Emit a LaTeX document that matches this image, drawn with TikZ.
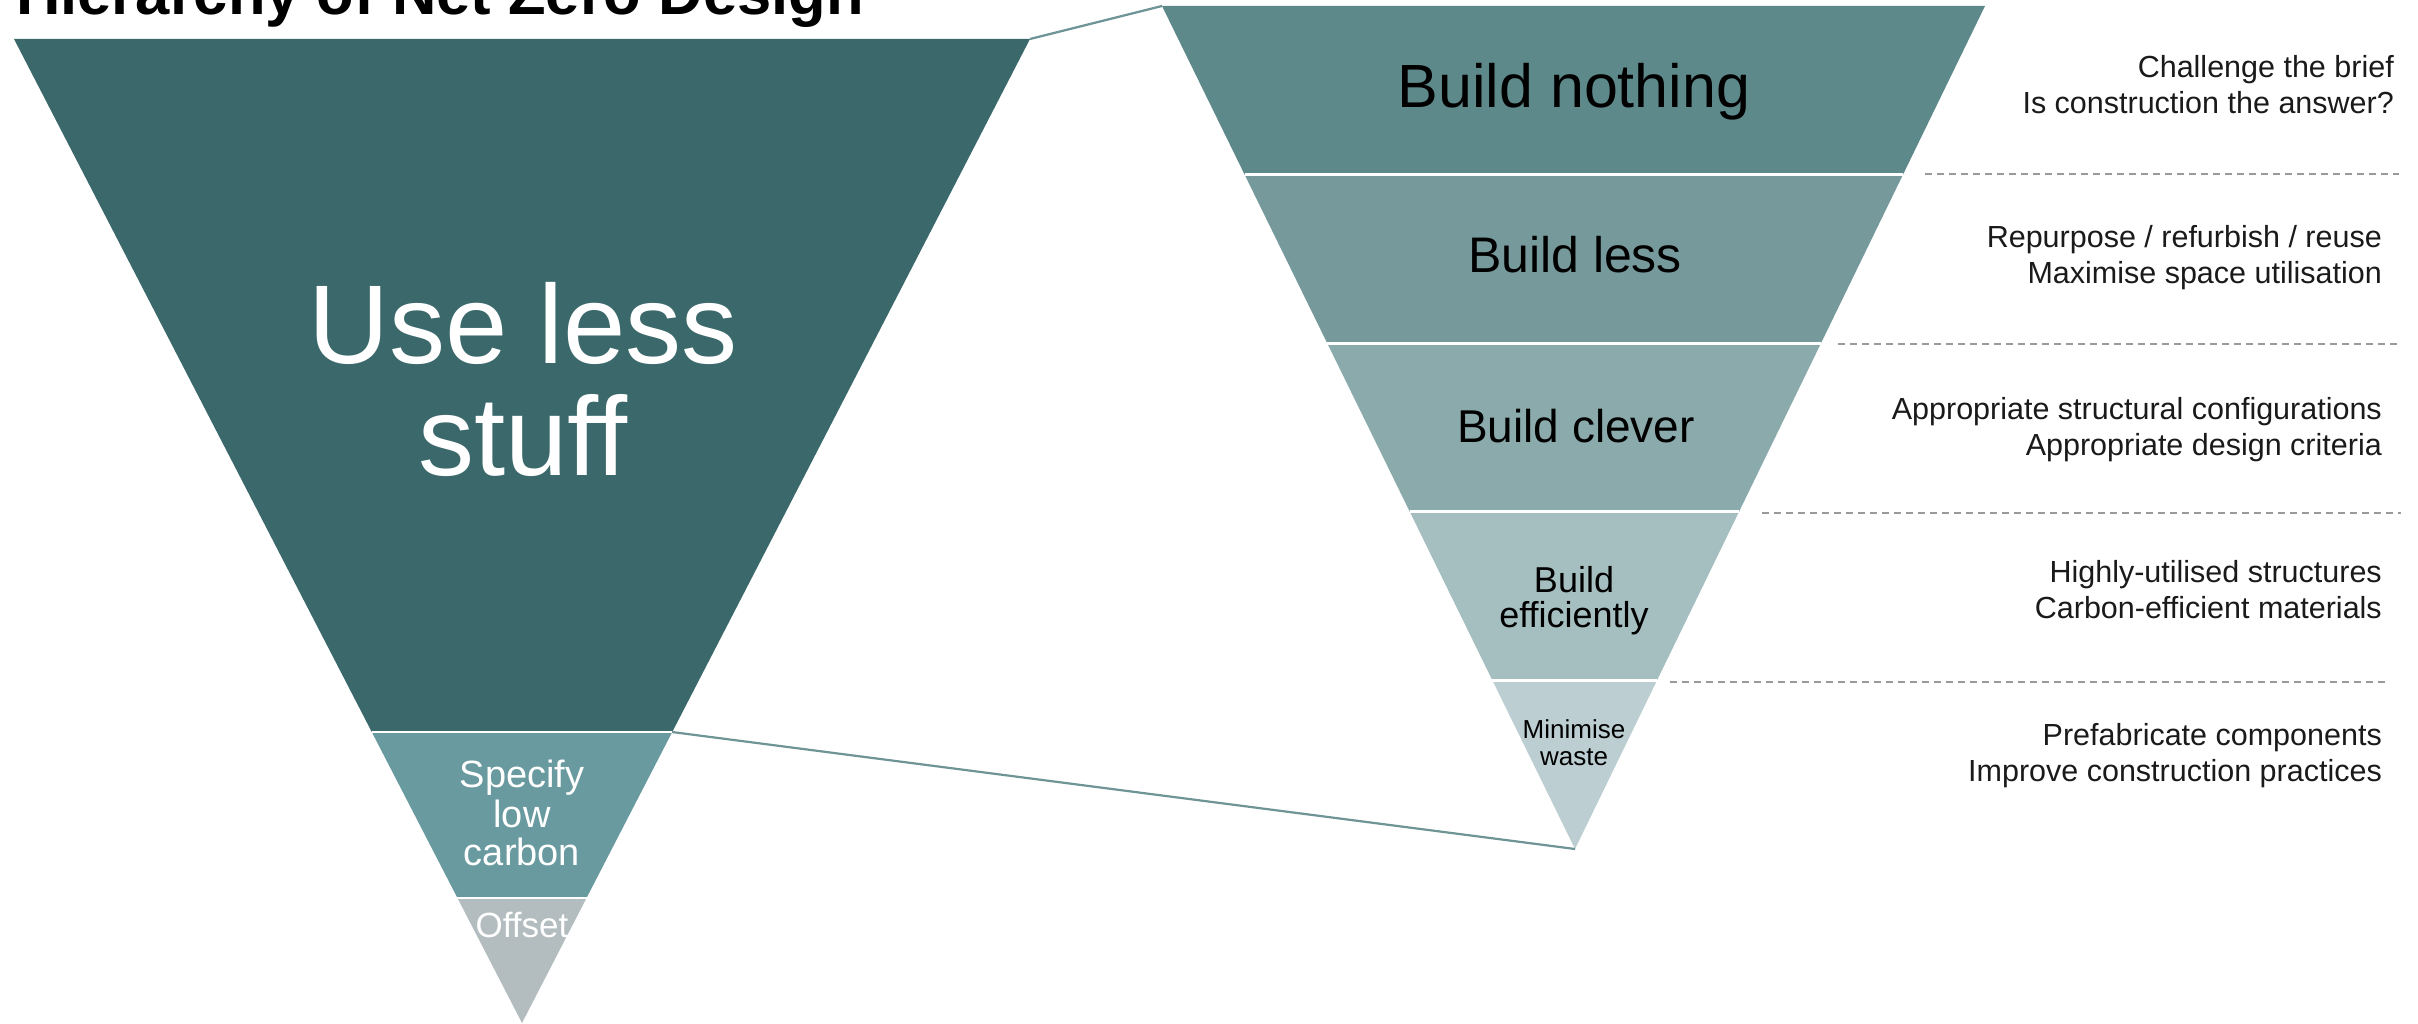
\documentclass[tikz,border=0pt]{standalone}
\usepackage{fontspec}
\setmainfont{Liberation Sans}
\usetikzlibrary{calc}
\definecolor{cUse}{HTML}{3A686B}
\definecolor{cSpec}{HTML}{689A9F}
\definecolor{cOff}{HTML}{B3BDBF}
\definecolor{cNoth}{HTML}{5E898B}
\definecolor{cLess}{HTML}{769A9C}
\definecolor{cClev}{HTML}{8BAAAC}
\definecolor{cEff}{HTML}{A5BEC0}
\definecolor{cWaste}{HTML}{BCCED1}
\definecolor{cConn}{HTML}{6E9496}
\definecolor{cDash}{HTML}{9A9A9A}
\definecolor{cNote}{HTML}{1A1A1A}
\newcommand\setfsz[2]{\fontsize{#1}{#2}\selectfont}
\begin{document}
\begin{tikzpicture}[x=1pt,y=-1pt,
  sepline/.style={draw=white,line width=3pt},
  conn/.style={draw=cConn,line width=2.2pt},
  guide/.style={draw=cDash,line width=2pt,dash pattern=on 7pt off 5pt},
  lbl/.style={inner sep=0pt,anchor=base,text=black},
  wlbl/.style={inner sep=0pt,anchor=base,text=white},
  note/.style={inner sep=0pt,anchor=base east,text=cNote,font=\setfsz{30.5}{35}},
]
\useasboundingbox (0,0) rectangle (2418,1024);
\clip (0,0) rectangle (2418,1024);

% ---------- title ----------
\node[inner sep=0pt,anchor=base west,font=\bfseries\setfsz{61.5}{70}] (title) at (16,15) {Hierarchy of Net Zero Design};

% ---------- left triangle ----------
\coordinate (LTL) at (14,39);
\coordinate (LTR) at (1030,39);
\coordinate (LA) at (522,1023);
\coordinate (L1l) at ($(LTL)!0.7043!(LA)$);
\coordinate (L1r) at ($(LTR)!0.7043!(LA)$);
\coordinate (L2l) at ($(LTL)!0.873!(LA)$);
\coordinate (L2r) at ($(LTR)!0.873!(LA)$);
\fill[cUse] (LTL) -- (LTR) -- (L1r) -- (L1l) -- cycle;
\fill[cSpec] (L1l) -- (L1r) -- (L2r) -- (L2l) -- cycle;
\fill[cOff] (L2l) -- (L2r) -- (LA) -- cycle;
\draw[sepline,line width=2.5pt] (L1l) -- (L1r);
\draw[sepline,line width=2.5pt] (L2l) -- (L2r);

\node[wlbl,font=\setfsz{112}{112}] (use1) at (523,363) {Use less};
\node[wlbl,font=\setfsz{112}{112}] (use2) at (523,475) {stuff};
\node[wlbl,font=\setfsz{38}{39}] (spec1) at (522,787) {Specify};
\node[wlbl,font=\setfsz{38}{39}] (spec2) at (522,827) {low};
\node[wlbl,font=\setfsz{38}{39}] (spec3) at (522,865) {carbon};
\node[wlbl,font=\setfsz{35}{36}] (off) at (522,937) {Offset};

% ---------- right funnel ----------
\coordinate (RTL) at (1162,6);
\coordinate (RTR) at (1985,6);
\coordinate (RA) at (1575,849);
\foreach \k in {1,2,3,4}{
  \coordinate (R\k l) at ($(RTL)!\k/5!(RA)$);
  \coordinate (R\k r) at ($(RTR)!\k/5!(RA)$);
}
\fill[cNoth] (RTL) -- (RTR) -- (R1r) -- (R1l) -- cycle;
\fill[cLess] (R1l) -- (R1r) -- (R2r) -- (R2l) -- cycle;
\fill[cClev] (R2l) -- (R2r) -- (R3r) -- (R3l) -- cycle;
\fill[cEff] (R3l) -- (R3r) -- (R4r) -- (R4l) -- cycle;
\fill[cWaste] (R4l) -- (R4r) -- (RA) -- cycle;
\foreach \k in {1,2,3,4}{ \draw[sepline] (R\k l) -- (R\k r); }

\node[lbl,font=\setfsz{61}{70}] (b1) at (1574,108) {Build nothing};
\node[lbl,font=\setfsz{50}{57}] (b2) at (1575,273) {Build less};
\node[lbl,font=\setfsz{46}{53}] (b3) at (1576,442) {Build clever};
\node[lbl,font=\setfsz{36}{36}] (b4a) at (1574,592) {Build};
\node[lbl,font=\setfsz{36}{36}] (b4b) at (1574,627) {efficiently};
\node[lbl,font=\setfsz{26}{27}] (b5a) at (1574,738) {Minimise};
\node[lbl,font=\setfsz{26}{27}] (b5b) at (1574,765) {waste};

% ---------- connectors ----------
\draw[conn] (LTR) -- (RTL);
\draw[conn] (L1r) -- (RA);

% ---------- dashed guides ----------
\coordinate (g1a) at (1925,174); \coordinate (g1b) at (2399,174);
\coordinate (g2a) at (1838,344); \coordinate (g2b) at (2399,344);
\coordinate (g3a) at (1762,513); \coordinate (g3b) at (2401,513);
\coordinate (g4a) at (1670,682); \coordinate (g4b) at (2385,682);
\draw[guide] (g1a) -- (g1b);
\draw[guide] (g2a) -- (g2b);
\draw[guide] (g3a) -- (g3b);
\draw[guide] (g4a) -- (g4b);

% ---------- notes ----------
\node[note] (n1a) at (2394,78) {Challenge the brief};
\node[note] (n1b) at (2394,114) {Is construction the answer?};
\node[note] (n2a) at (2382,248) {Repurpose / refurbish / reuse};
\node[note] (n2b) at (2382,284) {Maximise space utilisation};
\node[note] (n3a) at (2382,419) {Appropriate structural configurations};
\node[note] (n3b) at (2382,455) {Appropriate design criteria};
\node[note] (n4a) at (2382,582) {Highly-utilised structures};
\node[note] (n4b) at (2382,618) {Carbon-efficient materials};
\node[note] (n5a) at (2382,745) {Prefabricate components};
\node[note] (n5b) at (2382,781) {Improve construction practices};
\end{tikzpicture}
\end{document}
